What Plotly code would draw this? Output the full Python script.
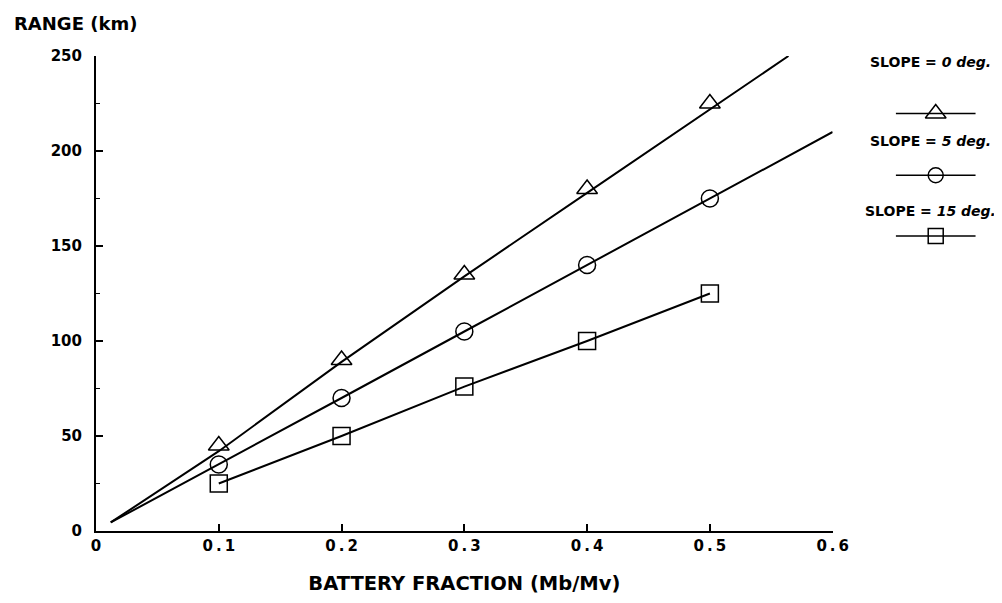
import plotly.graph_objects as go

# Data
x_pts = [0.1, 0.2, 0.3, 0.4, 0.5]
tri_pts = [45, 90, 135, 180, 225]
cir_pts = [35, 70, 105, 140, 175]
sq_pts = [25, 50, 76, 100, 125]

tri_line_x = [0.012, 0.1, 0.2, 0.3, 0.4, 0.5, 0.564]
tri_line_y = [4.5, 42, 89, 134, 178, 222, 250]
cir_line_x = [0.012, 0.1, 0.2, 0.3, 0.4, 0.5, 0.6]
cir_line_y = [4.5, 35, 70, 105, 140, 175, 210]
sq_line_x = [0.1, 0.2, 0.3, 0.4, 0.5]
sq_line_y = [25, 50, 76, 100, 125]

x_ticks = [0, 0.1, 0.2, 0.3, 0.4, 0.5, 0.6]
x_ticklabels = ["0", "0\u2009.\u20091", "0\u2009.\u20092", "0\u2009.\u20093",
                "0\u2009.\u20094", "0\u2009.\u20095", "0\u2009.\u20096"]
y_ticks = [0, 50, 100, 150, 200, 250]
y_minor = [25, 75, 125, 175, 225]

legend_names = ["SLOPE = <i>0 deg.</i>", "SLOPE = <i>5 deg.</i>", "SLOPE = <i>15 deg.</i>"]

# Styles / layout constants
symbols = ["triangle-up-open", "circle-open", "square-open"]
sizes = [18, 17, 17]
leg_sizes = [18, 15, 15]
leg_sample_y = [0.879, 0.749, 0.621]
leg_text_y = [0.987, 0.821, 0.674]

FONT = "DejaVu Sans, Arial, sans-serif"
OFF = 8                      # default page body margin
SCALE_X, SHIFT_X = 0.982, 1.5
FIG_W, FIG_H = 1010, 603 - 2 * OFF
L, R, T, B = 88, 4, 48, 64
PW = FIG_W - L - R


def fx(px):
    """target screen pixel x -> figure pixel x"""
    return (px - SHIFT_X) / SCALE_X - OFF


def sx(px):
    """target screen pixel x -> paper x"""
    return (fx(px) - L) / PW


L = round(fx(96))
PW = FIG_W - L - R

fig = go.Figure()

line_style = dict(color="black", width=2)
for lx, ly in [(tri_line_x, tri_line_y), (cir_line_x, cir_line_y), (sq_line_x, sq_line_y)]:
    fig.add_trace(go.Scatter(x=lx, y=ly, mode="lines", line=line_style,
                             showlegend=False, hoverinfo="skip"))

for ys, sym, sz in zip([tri_pts, cir_pts, sq_pts], symbols, sizes):
    fig.add_trace(go.Scatter(x=x_pts, y=ys, mode="markers",
                             marker=dict(symbol=sym, size=sz, color="black",
                                         line=dict(color="black", width=1.5)),
                             showlegend=False))

# Legend samples on a hidden auxiliary axis
for yv, sym, sz in zip(leg_sample_y, symbols, leg_sizes):
    fig.add_trace(go.Scatter(x=[0, 1, 2], y=[yv, yv, yv], mode="lines",
                             line=dict(color="black", width=1.5),
                             xaxis="x2", yaxis="y2", showlegend=False, hoverinfo="skip"))
    fig.add_trace(go.Scatter(x=[1], y=[yv], mode="markers",
                             marker=dict(symbol=sym, size=sz, color="black",
                                         line=dict(color="black", width=1.5)),
                             xaxis="x2", yaxis="y2", showlegend=False, hoverinfo="skip"))

tickfont = dict(family=FONT, size=15, color="black", weight="bold")
fig.update_layout(
    width=FIG_W, height=FIG_H,
    margin=dict(l=L, r=R, t=T, b=B),
    paper_bgcolor="white", plot_bgcolor="white",
    font=dict(family=FONT, color="black", size=14),
    xaxis=dict(domain=[0, sx(832)], range=[0, 0.6], tickvals=x_ticks, ticktext=x_ticklabels,
               ticks="inside", ticklen=7, tickwidth=1.5, tickcolor="black",
               showline=True, linecolor="black", linewidth=2, showgrid=False, zeroline=False,
               tickfont=tickfont,
               title=dict(text="<b>BATTERY FRACTION (Mb/Mv)</b>",
                          font=dict(family=FONT, size=19.5), standoff=22)),
    yaxis=dict(range=[0, 250], tickvals=y_ticks,
               ticks="inside", ticklen=7, tickwidth=1.5, tickcolor="black",
               minor=dict(tickvals=y_minor, ticks="inside", ticklen=4,
                          tickwidth=1, tickcolor="black"),
               showline=True, linecolor="black", linewidth=2, showgrid=False, zeroline=False,
               tickfont=tickfont, ticklabelstandoff=9),
    xaxis2=dict(domain=[sx(895), sx(975)], range=[0, 2], visible=False, anchor="y2"),
    yaxis2=dict(domain=[0, 1], range=[0, 1], visible=False, anchor="x2"),
    showlegend=False,
)

fig.add_annotation(text="<b>RANGE (km)</b>", xref="paper", yref="paper",
                   x=sx(12), y=1.069, xanchor="left", yanchor="middle",
                   showarrow=False, font=dict(family=FONT, size=18))

for name, yp in zip(legend_names, leg_text_y):
    fig.add_annotation(text="<b>" + name + "</b>", xref="paper", yref="paper",
                       x=sx(930), y=yp, xanchor="center", yanchor="middle",
                       showarrow=False, font=dict(family=FONT, size=14))

fig.write_html("out.html")
